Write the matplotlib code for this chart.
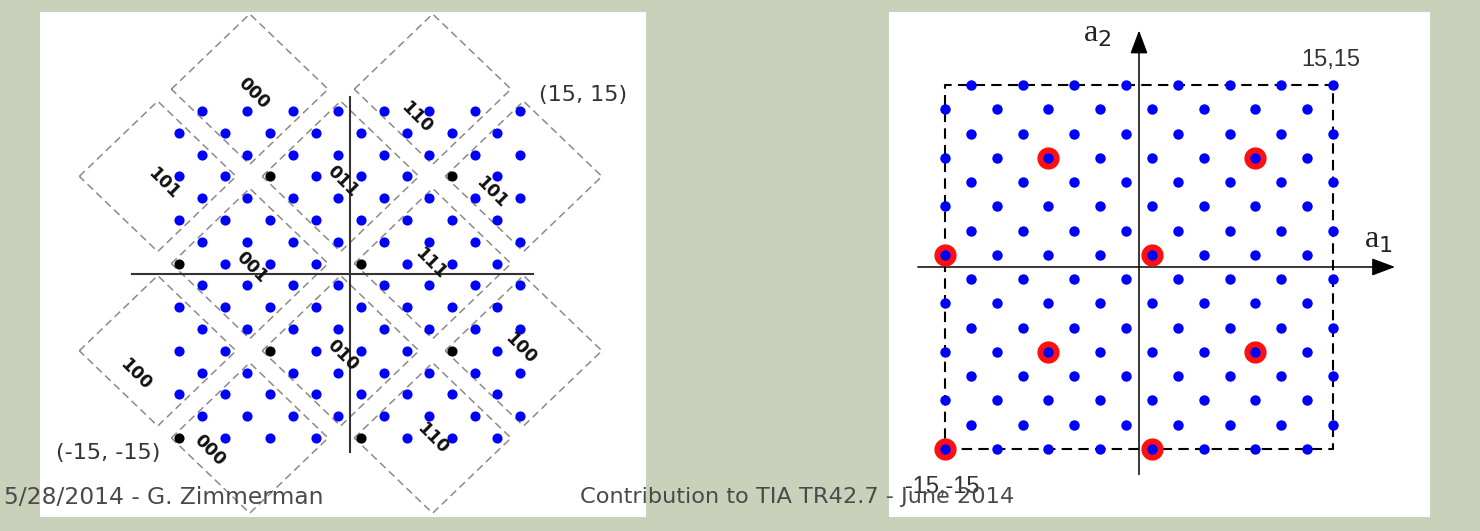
import matplotlib.pyplot as plt

# lattice rows (a2) and the two staggered sets of a1 positions
a2_rows = [15, 13, 11, 9, 7, 5, 3, 1, -1, -3, -5, -7, -9, -11, -13, -15]
a1_shifted = [-13, -9, -5, -1, 3, 7, 11, 15]   # rows 15, 11, 7, 3, ...
a1_plain = [-15, -11, -7, -3, 1, 5, 9, 13]     # rows 13, 9, 5, 1, ...

# coset leaders
lead_a1 = [-15, 1, -7, 9, -15, 1, -7, 9]
lead_a2 = [-15, -15, -7, -7, 1, 1, 9, 9]

# dashed label regions on the left panel
reg_cx = [-8.8, 7.3, -16.9, -0.8, 15.3, -8.8, 7.3, -16.9, -0.8, 15.3, -8.8, 7.3]
reg_cy = [17, 17, 9, 9, 9, 1, 1, -7, -7, -7, -15, -15]
reg_half = 6.9
lab_text = ['000', '110', '101', '011', '101', '001', '111', '100', '010', '100', '000', '110']
lab_x = [-8.5, 5.9, -16.4, -0.6, 12.5, -8.6, 7.1, -18.9, -0.6, 15.0, -12.3, 7.3]
lab_y = [16.65, 14.45, 8.4, 8.5, 7.5, 0.7, 1.05, -9.2, -7.4, -6.75, -16.1, -15.0]

pts = []
for a2 in a2_rows:
    cols = a1_shifted if (15 - a2) % 4 == 0 else a1_plain
    for a1 in cols:
        pts.append((a1, a2))
leaders = set(zip(lead_a1, lead_a2))
blue = [p for p in pts if p not in leaders]
bx = [p[0] for p in blue]
by = [p[1] for p in blue]
ax_all = [p[0] for p in pts]
ay_all = [p[1] for p in pts]

W, H = 1480, 531
fig = plt.figure(figsize=(W / 100, H / 100), dpi=100, facecolor='#c9d1bb')


def panel(x0, y0, x1, y1):
    ax = fig.add_axes([x0 / W, 1 - y1 / H, (x1 - x0) / W, (y1 - y0) / H])
    ax.set_facecolor('white')
    ax.set_xticks([])
    ax.set_yticks([])
    for s in ax.spines.values():
        s.set_visible(False)
    return ax


# ---- left panel: labelled regions ----
axL = panel(40, 12, 646, 517)
axL.set_xlim(-27.26, 26.08)
axL.set_ylim(-22.25, 24.08)

for cx, cy in zip(reg_cx, reg_cy):
    h = reg_half
    axL.plot([cx - h, cx, cx + h, cx, cx - h], [cy, cy + h, cy, cy - h, cy],
             color='#8a8a8a', lw=1.1, ls=(0, (5, 3)), zorder=1)

axL.plot([-19.2, 16.1], [0, 0], color='#333333', lw=1.5, zorder=2)
axL.plot([0, 0], [-16.3, 16.3], color='#333333', lw=1.5, zorder=2)

axL.plot(bx, by, 'o', color='#0000ff', ms=7.3, mec='none', zorder=3)
axL.plot(lead_a1, lead_a2, 'o', color='black', ms=7.3, mec='none', zorder=3)

for t, x, y in zip(lab_text, lab_x, lab_y):
    axL.text(x, y, t, rotation=-45, ha='center', va='center', fontsize=12.5,
             fontweight='bold', color='#111111', zorder=4)

axL.text(20.5, 16.5, '(15, 15)', ha='center', va='center', fontsize=16, color='#333333')
axL.text(-21.3, -16.4, '(-15, -15)', ha='center', va='center', fontsize=16, color='#333333')

# ---- right panel: lattice with coset leaders ----
axR = panel(889, 12, 1430, 517)
axR.set_xlim(-19.33, 22.5)
axR.set_ylim(-20.61, 21.02)

axR.plot([-15, 15, 15, -15, -15], [-15, -15, 15, 15, -15], color='black', lw=1.5,
         ls=(0, (5, 3)), zorder=1)

arrow = dict(arrowstyle='-|>,head_length=0.8,head_width=0.3', color='black', lw=1.1,
             mutation_scale=18, shrinkA=0, shrinkB=0)
axR.annotate('', xy=(19.8, 0), xytext=(-17.1, 0), arrowprops=arrow, zorder=2)
axR.annotate('', xy=(0, 19.5), xytext=(0, -17.1), arrowprops=arrow, zorder=2)

axR.plot(lead_a1, lead_a2, 'o', color='#ff1010', ms=16, mec='none', zorder=3)
axR.plot(ax_all, ay_all, 'o', color='#0000ff', ms=7.5, mec='none', zorder=4)

axR.text(-3.2, 19.2, r'a$_2$', ha='center', va='center', fontsize=23,
         family='Liberation Serif', color='#222222')
axR.text(18.5, 2.2, r'a$_1$', ha='center', va='center', fontsize=23,
         family='Liberation Serif', color='#222222')
axR.text(14.8, 17.1, '15,15', ha='center', va='center', fontsize=17,
         family='Liberation Sans', color='#333333')
axR.text(-15.2, -18.1, '-15,-15', ha='center', va='center', fontsize=17,
         family='Liberation Sans', color='#333333')

# footer
fig.text(4 / W, 1 - 497 / H, '5/28/2014 - G. Zimmerman', ha='left', va='center',
         fontsize=16.8, color='#4a4a4a')
fig.text(580 / W, 1 - 497 / H, 'Contribution to TIA TR42.7 - June 2014', ha='left',
         va='center', fontsize=16.2, color='#4a4a4a')

fig.savefig('out.png', dpi=100, facecolor=fig.get_facecolor())
